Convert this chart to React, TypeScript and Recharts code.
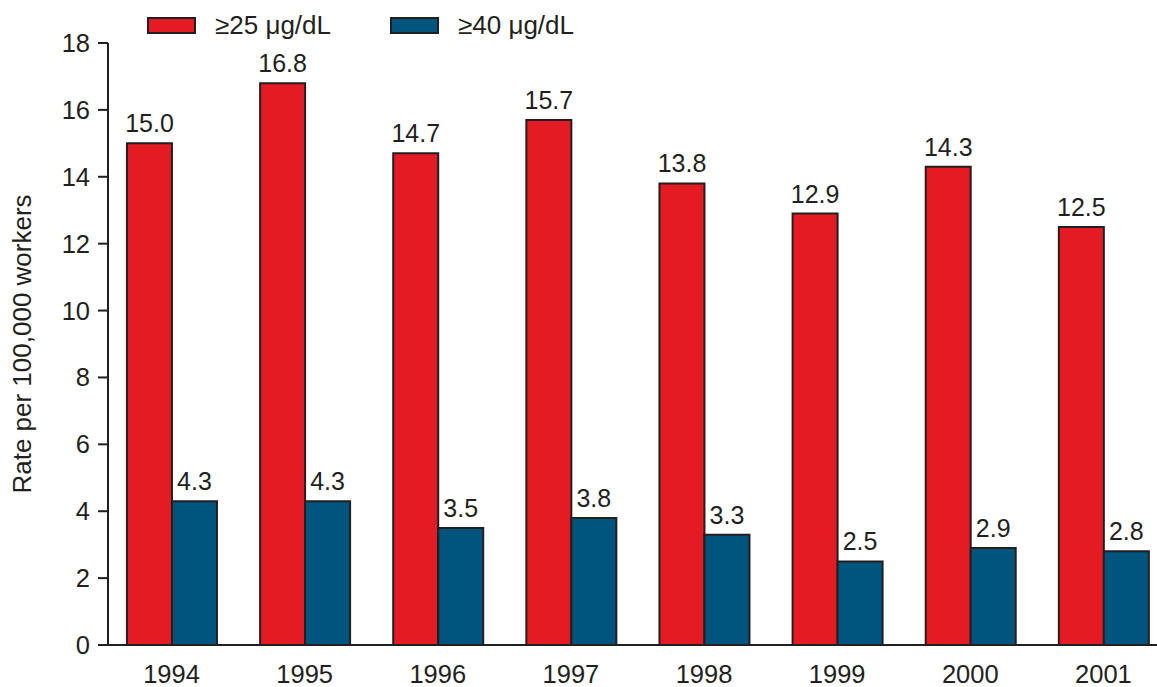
import { Bar, BarChart, LabelList, Legend, XAxis, YAxis } from 'recharts';

const years = ['1994', '1995', '1996', '1997', '1998', '1999', '2000', '2001'];
const rate25 = [15.0, 16.8, 14.7, 15.7, 13.8, 12.9, 14.3, 12.5];
const rate40 = [4.3, 4.3, 3.5, 3.8, 3.3, 2.5, 2.9, 2.8];
const yTicks = [0, 2, 4, 6, 8, 10, 12, 14, 16, 18];

const RED = '#e41b23';
const BLUE = '#00557f';
const INK = '#231f20';
const FONT = '"Liberation Sans", Arial, Helvetica, sans-serif';

const data = years.map((year, i) => ({ year, r25: rate25[i], r40: rate40[i] }));
const legendFill: Record<string, string> = { r25: RED, r40: BLUE };

function LegendRow(props: any) {
  const items = props.payload ?? [];
  return (
    <div style={{ display: 'flex', alignItems: 'center', paddingLeft: 147, paddingTop: 15 }}>
      {items.map((e: any) => (
        <div key={e.dataKey} style={{ display: 'flex', alignItems: 'center', width: 243 }}>
          <span
            style={{
              display: 'inline-block',
              width: 45,
              height: 13,
              background: legendFill[e.dataKey],
              border: `2px solid ${INK}`,
              marginRight: 19,
            }}
          />
          <span style={{ fontSize: 26, color: INK, lineHeight: '20px' }}>{e.value}</span>
        </div>
      ))}
    </div>
  );
}

export default function App() {
  return (
    <div
      style={{
        position: 'absolute',
        left: 0,
        top: 0,
        width: 1157,
        height: 687,
        overflow: 'hidden',
        background: '#fff',
        fontFamily: FONT,
      }}
    >
      <BarChart
        width={1170}
        height={687}
        data={data}
        margin={{ top: 43, right: 0, bottom: 0, left: 0 }}
        barCategoryGap="16.5%"
        barGap={0}
      >
        <XAxis
          dataKey="year"
          height={42}
          padding={{ left: -3, right: 0 }}
          axisLine={{ stroke: INK, strokeWidth: 2 }}
          tickLine={false}
          tickSize={6}
          tickMargin={14}
          tick={{ fill: INK, fontSize: 25.5, fontFamily: FONT }}
        />
        <YAxis
          width={108}
          domain={[0, 18]}
          ticks={yTicks}
          interval={0}
          axisLine={{ stroke: INK, strokeWidth: 2 }}
          tickLine={{ stroke: INK, strokeWidth: 2 }}
          tickSize={10}
          tickMargin={8}
          tick={{ fill: INK, fontSize: 25.5, fontFamily: FONT }}
          label={{
            value: 'Rate per 100,000 workers',
            angle: -90,
            position: 'insideLeft',
            offset: 22,
            fill: INK,
            fontSize: 26,
            fontFamily: FONT,
            style: { textAnchor: 'middle' },
          }}
        />
        <Legend
          layout="vertical"
          align="center"
          verticalAlign="middle"
          wrapperStyle={{ top: 0, left: 0, width: 700 }}
          content={LegendRow}
        />
        <Bar
          dataKey="r25"
          name="≥25 μg/dL"
          fill={RED}
          stroke={INK}
          strokeWidth={2}
          isAnimationActive={false}
        >
          <LabelList
            dataKey="r25"
            position="top"
            offset={11}
            formatter={(v: any) => Number(v).toFixed(1)}
            style={{ fill: INK, fontSize: 25, fontFamily: FONT }}
          />
        </Bar>
        <Bar
          dataKey="r40"
          name="≥40 μg/dL"
          fill={BLUE}
          stroke={INK}
          strokeWidth={2}
          isAnimationActive={false}
        >
          <LabelList
            dataKey="r40"
            position="top"
            offset={11}
            formatter={(v: any) => Number(v).toFixed(1)}
            style={{ fill: INK, fontSize: 25, fontFamily: FONT }}
          />
        </Bar>
      </BarChart>
    </div>
  );
}
